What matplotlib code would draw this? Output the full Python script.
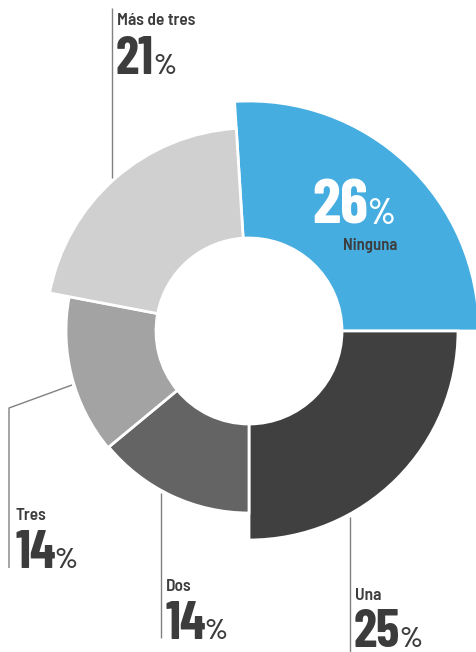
import matplotlib
matplotlib.use('Agg')
import matplotlib.pyplot as plt
from matplotlib.patches import Wedge
from matplotlib import font_manager as fm

categories = ['Ninguna', 'Una', 'Dos', 'Tres', 'Más de tres']
values = [26, 25, 14, 14, 21]

colors = ['#46ade1', '#404040', '#646464', '#a3a3a3', '#d0d0d0']
outer_r = [230, 209, 182, 183, 203]
inner_r = 93
W, H = 476, 652
cx, cy = 249, H - 331

names = {f.name for f in fm.fontManager.ttflist}
def pick(prefs):
    for p in prefs:
        if p in names:
            return p
    return 'DejaVu Sans'
big_font = pick(['Barlow Condensed', 'Roboto Condensed', 'Lato'])
lab_font = pick(['Barlow Semi Condensed', 'Lato'])

fig = plt.figure(figsize=(W / 100, H / 100), dpi=100)
ax = fig.add_axes([0, 0, 1, 1])
ax.set_xlim(0, W)
ax.set_ylim(0, H)
ax.axis('off')

a = values[0] * 3.6
for v, c, r in zip(values, colors, outer_r):
    t1 = a - v * 3.6
    ax.add_patch(Wedge((cx, cy), r, t1, a, width=r - inner_r,
                       facecolor=c, edgecolor='white', linewidth=2))
    a = t1

def Y(p):
    return H - p

txt = '#3c3c3c'
line_c = '#808080'

# leader lines (pixel coords from top-left)
leaders = {
    'Más de tres': [(112, 8), (112, 178)],
    'Tres': [(72, 385), (9, 408), (9, 568)],
    'Dos': [(161, 493), (161, 638)],
    'Una': [(350, 517), (350, 652)],
}
for k, pts in leaders.items():
    ax.plot([p[0] for p in pts], [Y(p[1]) for p in pts], color=line_c, lw=1,
            solid_capstyle='butt')

# label layout: (label x, label baseline, big x, big baseline, size)
layout = {
    'Más de tres': (117, 25, 116, 74, 38),
    'Tres': (16, 520, 15, 568, 38),
    'Dos': (166, 591, 165, 639, 38),
    'Una': (355, 600, 354, 647, 38),
}

fig.canvas.draw()
renderer = fig.canvas.get_renderer()

def big_pct(x, yb, num, size, color):
    t = ax.text(x, Y(yb), num, fontsize=size, fontweight='bold', family=big_font,
                color=color, va='baseline', ha='left')
    bb = t.get_window_extent(renderer=renderer)
    x1 = ax.transData.inverted().transform((bb.x1, 0))[0]
    ax.text(x1 - 1, Y(yb), '%', fontsize=size * 0.56, fontweight='semibold',
            family=big_font, color=color, va='baseline', ha='left')

for cat, v in zip(categories, values):
    if cat in layout:
        lx, lb, bx, bb_, size = layout[cat]
        ax.text(lx, Y(lb), cat, fontsize=12.5, fontweight='semibold', family=lab_font,
                color=txt, va='baseline', ha='left')
        big_pct(bx, bb_, f'{v}', size, txt)

# Ninguna inside blue wedge
big_pct(312, 224, f'{values[0]}', 46, 'white')
ax.text(343, Y(250), categories[0], fontsize=12, fontweight='semibold', family=lab_font,
        color=txt, va='baseline', ha='left')

fig.savefig('out.png', dpi=100)
